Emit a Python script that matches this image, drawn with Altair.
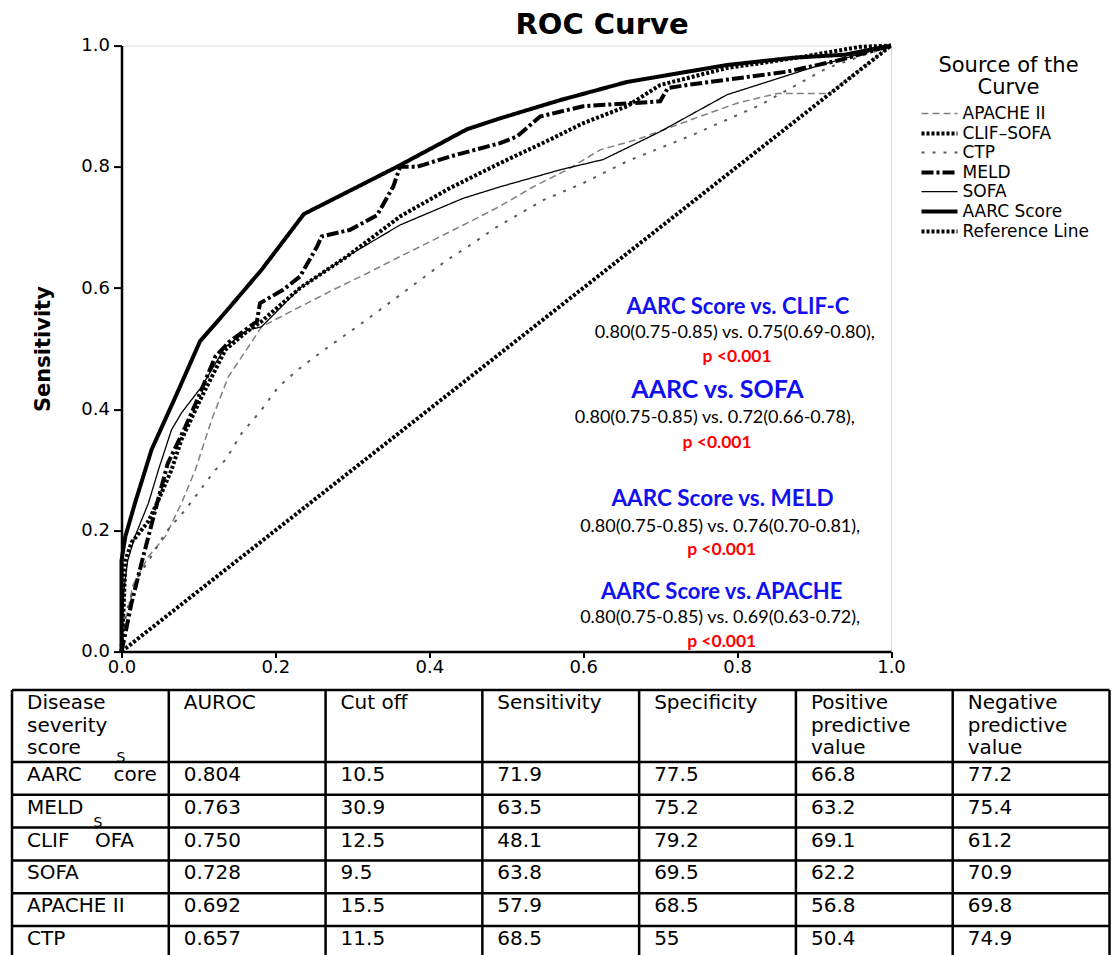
import altair as alt
import pandas as pd

# ---------------- ROC curve values ----------------
SERIES = ["APACHE II", "CLIF–SOFA", "CTP", "MELD", "SOFA", "AARC Score", "Reference Line"]

apache_fpr = [0.0, 0.005, 0.015, 0.035, 0.057, 0.078, 0.096, 0.117, 0.139, 0.165, 0.182, 0.232, 0.275, 0.319, 0.362, 0.405, 0.449, 0.492, 0.535, 0.579, 0.622, 0.67, 0.756, 0.80, 0.852, 0.92, 1.0]
apache_tpr = [0.0, 0.05, 0.11, 0.157, 0.19, 0.245, 0.30, 0.382, 0.454, 0.503, 0.536, 0.569, 0.597, 0.624, 0.652, 0.679, 0.707, 0.735, 0.767, 0.795, 0.828, 0.845, 0.885, 0.905, 0.921, 0.921, 1.0]

clif_fpr = [0.0, 0.003, 0.005, 0.013, 0.035, 0.048, 0.065, 0.078, 0.091, 0.104, 0.122, 0.135, 0.16, 0.182, 0.232, 0.293, 0.362, 0.427, 0.492, 0.557, 0.60, 0.657, 0.70, 0.787, 0.873, 0.96, 1.0]
clif_tpr = [0.0, 0.08, 0.15, 0.18, 0.215, 0.25, 0.30, 0.35, 0.385, 0.42, 0.465, 0.498, 0.525, 0.545, 0.60, 0.652, 0.718, 0.765, 0.806, 0.845, 0.872, 0.90, 0.935, 0.963, 0.979, 0.998, 1.0]

ctp_fpr = [0.0, 0.005, 0.02, 0.04, 0.057, 0.083, 0.096, 0.109, 0.122, 0.135, 0.156, 0.182, 0.204, 0.234, 0.269, 0.306, 0.353, 0.388, 0.423, 0.457, 0.488, 0.548, 0.60, 0.657, 0.743, 0.83, 0.917, 1.0]
ctp_tpr = [0.0, 0.06, 0.12, 0.16, 0.196, 0.234, 0.256, 0.278, 0.30, 0.316, 0.36, 0.399, 0.437, 0.47, 0.503, 0.536, 0.58, 0.613, 0.646, 0.674, 0.701, 0.745, 0.773, 0.809, 0.853, 0.902, 0.963, 1.0]

meld_fpr = [0.0, 0.005, 0.013, 0.026, 0.044, 0.06, 0.083, 0.10, 0.122, 0.139, 0.176, 0.18, 0.21, 0.232, 0.254, 0.26, 0.297, 0.332, 0.353, 0.362, 0.384, 0.427, 0.492, 0.514, 0.544, 0.60, 0.70, 0.71, 0.735, 0.865, 0.93, 1.0]
meld_tpr = [0.0, 0.03, 0.08, 0.146, 0.234, 0.31, 0.371, 0.42, 0.487, 0.51, 0.545, 0.575, 0.597, 0.619, 0.668, 0.685, 0.696, 0.72, 0.767, 0.80, 0.80, 0.817, 0.839, 0.85, 0.883, 0.90, 0.908, 0.93, 0.935, 0.957, 0.975, 1.0]

sofa_fpr = [0.0, 0.003, 0.008, 0.0175, 0.035, 0.048, 0.065, 0.078, 0.104, 0.135, 0.165, 0.182, 0.232, 0.293, 0.362, 0.444, 0.492, 0.57, 0.626, 0.70, 0.787, 0.908, 1.0]
sofa_tpr = [0.0, 0.10, 0.15, 0.19, 0.245, 0.30, 0.366, 0.394, 0.437, 0.503, 0.531, 0.536, 0.60, 0.652, 0.704, 0.748, 0.767, 0.795, 0.812, 0.858, 0.919, 0.968, 1.0]

aarc_fpr = [0.0, 0.0, 0.005, 0.0175, 0.039, 0.07, 0.102, 0.135, 0.182, 0.237, 0.358, 0.449, 0.492, 0.57, 0.657, 0.787, 0.873, 0.94, 1.0]
aarc_tpr = [0.0, 0.15, 0.19, 0.245, 0.333, 0.42, 0.512, 0.56, 0.63, 0.722, 0.80, 0.862, 0.88, 0.91, 0.94, 0.968, 0.98, 0.985, 1.0]

ref_fpr = [0.0, 1.0]
ref_tpr = [0.0, 1.0]

# ---------------- annotation texts ----------------
cmp_titles = ["AARC Score vs. CLIF-C", "AARC vs. SOFA", "AARC Score vs. MELD", "AARC Score vs. APACHE"]
cmp_values = ["0.80(0.75-0.85) vs. 0.75(0.69-0.80),", "0.80(0.75-0.85) vs. 0.72(0.66-0.78),",
              "0.80(0.75-0.85) vs. 0.76(0.70-0.81),", "0.80(0.75-0.85) vs. 0.69(0.63-0.72),"]
cmp_pvals = ["p <0.001", "p <0.001", "p <0.001", "p <0.001"]
# anchor points (data units of the ROC axes)
cmp_title_x = [0.801, 0.7745, 0.781, 0.780]
cmp_title_y = [0.569, 0.432, 0.251, 0.099]
cmp_value_x = [0.797, 0.771, 0.778, 0.778]
cmp_value_y = [0.526, 0.386, 0.206, 0.056]
cmp_p_x = [0.800, 0.774, 0.780, 0.780]
cmp_p_y = [0.486, 0.344, 0.168, 0.0165]
cmp_title_size = [22, 25, 22.5, 22]

# ---------------- table values ----------------
NB = "\u00a0"
tbl_header = ["Disease\nseverity\nscore", "AUROC", "Cut off", "Sensitivity", "Specificity",
              "Positive\npredictive\nvalue", "Negative\npredictive\nvalue"]
tbl_score = ["AARC" + NB * 5 + "core", "MELD", "CLIF" + NB * 4 + "OFA", "SOFA", "APACHE II", "CTP"]
tbl_auroc = ["0.804", "0.763", "0.750", "0.728", "0.692", "0.657"]
tbl_cutoff = ["10.5", "30.9", "12.5", "9.5", "15.5", "11.5"]
tbl_sens = ["71.9", "63.5", "48.1", "63.8", "57.9", "68.5"]
tbl_spec = ["77.5", "75.2", "79.2", "69.5", "68.5", "55"]
tbl_ppv = ["66.8", "63.2", "69.1", "62.2", "56.8", "50.4"]
tbl_npv = ["77.2", "75.4", "61.2", "70.9", "69.8", "74.9"]

# ---------------- layout (page pixels) ----------------
PLOT_LEFT, PLOT_TOP, PLOT_W, PLOT_H = 121.5, 45.6, 769.5, 606.0
PAGE_W, PAGE_H = 1120, 955
SVG_RIGHT = 1111          # last page pixel the chart may use (8px page margin)
TBL_X0, TBL_X1 = 12.0, 1109.5
TBL_Y0, HEAD_H, ROW_H = 690.0, 72.0, 32.8
NCOL = 7
COL_W = (TBL_X1 - TBL_X0) / NCOL
row_edges = [TBL_Y0, TBL_Y0 + HEAD_H] + [TBL_Y0 + HEAD_H + ROW_H * (i + 1) for i in range(6)]
col_edges = [TBL_X0 + COL_W * i for i in range(NCOL + 1)]

# ---------------- styles ----------------
colors = ["#808080", "black", "#5a5a5a", "black", "black", "black", "black"]
dashes = [[7, 4], [3, 2], [3, 8], [12, 3, 3, 3], [1, 0], [1, 0], [3, 2]]
widths = [1.5, 4, 2, 4, 1.3, 4, 4]

# ---------------- build tables ----------------
curves = {
    "APACHE II": (apache_fpr, apache_tpr),
    "CLIF–SOFA": (clif_fpr, clif_tpr),
    "CTP": (ctp_fpr, ctp_tpr),
    "MELD": (meld_fpr, meld_tpr),
    "SOFA": (sofa_fpr, sofa_tpr),
    "AARC Score": (aarc_fpr, aarc_tpr),
    "Reference Line": (ref_fpr, ref_tpr),
}
rows = []
for name, (fx, ty) in curves.items():
    for i, (f, t) in enumerate(zip(fx, ty, strict=True)):
        rows.append({"series": name, "fpr": f, "tpr": t, "ord": i})
roc_df = pd.DataFrame(rows)

title_df = pd.DataFrame({"t": cmp_titles, "x": cmp_title_x, "y": cmp_title_y, "s": cmp_title_size})
value_df = pd.DataFrame({"t": cmp_values, "x": cmp_value_x, "y": cmp_value_y})
p_df = pd.DataFrame({"t": cmp_pvals, "x": cmp_p_x, "y": cmp_p_y})

FONT = "DejaVu Sans"
ANN_FONT = "Lato"

legend = alt.Legend(
    title=["Source of the", "Curve"],
    orient="none", legendX=806, legendY=9,
    symbolType="M-1.8,0H1.8", symbolSize=400,
    labelFont=FONT, labelFontSize=17, labelColor="black", labelOffset=11,
    titleFont=FONT, titleFontSize=21, titleFontWeight="normal", titleColor="black",
    titleAnchor="middle", titleAlign="center", titleLineHeight=22, titlePadding=5,
    rowPadding=0,
)

xscale = alt.Scale(domain=[0, 1], nice=False, zero=False)
yscale = alt.Scale(domain=[0, 1], nice=False, zero=False)
ticks = [0, 0.2, 0.4, 0.6, 0.8, 1.0]

lines = alt.Chart(roc_df).mark_line(strokeCap="butt").encode(
    x=alt.X("fpr:Q", scale=xscale,
            axis=alt.Axis(values=ticks, format=".1f", title=None, grid=False,
                          domainColor="black", domainWidth=2.5, tickColor="black", tickWidth=2,
                          tickSize=6, labelFont=FONT, labelFontSize=18, labelColor="black",
                          labelPadding=1, labelFlush=False)),
    y=alt.Y("tpr:Q", scale=yscale,
            axis=alt.Axis(values=ticks, format=".1f", title="Sensitivity", grid=False,
                          domainColor="black", domainWidth=2.5, tickColor="black", tickWidth=2,
                          tickSize=8, labelFont=FONT, labelFontSize=18, labelColor="black",
                          labelPadding=4, titleFont=FONT, titleFontSize=21, titleFontWeight="bold",
                          titleColor="black", titlePadding=27)),
    color=alt.Color("series:N", scale=alt.Scale(domain=SERIES, range=colors), legend=legend),
    strokeDash=alt.StrokeDash("series:N", scale=alt.Scale(domain=SERIES, range=dashes), legend=legend),
    strokeWidth=alt.StrokeWidth("series:N", scale=alt.Scale(type="ordinal", domain=SERIES, range=widths), legend=legend),
    order=alt.Order("ord:Q"),
)

ann_titles = alt.Chart(title_df).mark_text(font=ANN_FONT, fontWeight="bold", color="#1010f0",
                                           align="center", baseline="middle").encode(
    x="x:Q", y="y:Q", text="t:N", size=alt.Size("s:Q", scale=None, legend=None))
ann_values = alt.Chart(value_df).mark_text(font=ANN_FONT, fontSize=18, color="black",
                                           align="center", baseline="middle").encode(
    x="x:Q", y="y:Q", text="t:N")
ann_p = alt.Chart(p_df).mark_text(font=ANN_FONT, fontSize=17.5, fontWeight="bold", color="#ff0000",
                                  align="center", baseline="middle").encode(
    x="x:Q", y="y:Q", text="t:N")

roc = alt.layer(lines, ann_titles, ann_values, ann_p)

# ---------------- page-coordinate layer: title + table ----------------
px = alt.Scale(domain=[0, PAGE_W], range=[-PLOT_LEFT, PAGE_W - PLOT_LEFT], nice=False, zero=False)
py = alt.Scale(domain=[0, PAGE_H], range=[-PLOT_TOP, PAGE_H - PLOT_TOP], nice=False, zero=False)

hl = pd.DataFrame({"y": row_edges, "x": [TBL_X0] * len(row_edges), "x2": [TBL_X1] * len(row_edges)})
vl = pd.DataFrame({"x": col_edges, "y": [TBL_Y0] * len(col_edges), "y2": [row_edges[-1]] * len(col_edges)})

hrules = alt.Chart(hl).mark_rule(color="black", strokeWidth=2.5).encode(
    x=alt.X("x:Q", scale=px, axis=None), x2="x2:Q", y=alt.Y("y:Q", scale=py, axis=None))
vrules = alt.Chart(vl).mark_rule(color="black", strokeWidth=2.5).encode(
    x=alt.X("x:Q", scale=px, axis=None), y=alt.Y("y:Q", scale=py, axis=None), y2="y2:Q")

cells = []
for c, h in enumerate(tbl_header):
    cells.append({"t": h, "x": col_edges[c] + 15, "y": TBL_Y0 + 3})
columns = [tbl_score, tbl_auroc, tbl_cutoff, tbl_sens, tbl_spec, tbl_ppv, tbl_npv]
for c, col in enumerate(columns):
    for r, v in enumerate(col):
        cells.append({"t": v, "x": col_edges[c] + 15, "y": row_edges[r + 1] + 3})
cell_df = pd.DataFrame(cells)

cell_text = alt.Chart(cell_df).mark_text(font=FONT, fontSize=20, color="black", align="left",
                                         baseline="top", lineBreak="\n", lineHeight=22.5).encode(
    x=alt.X("x:Q", scale=px, axis=None), y=alt.Y("y:Q", scale=py, axis=None), text="t:N")

# stray raised "S" glyphs of the original table
stray_df = pd.DataFrame({"t": ["S", "S"], "x": [121, 98], "y": [758, 823]})
stray = alt.Chart(stray_df).mark_text(font=FONT, fontSize=14, color="black", align="center",
                                      baseline="middle").encode(
    x=alt.X("x:Q", scale=px, axis=None), y=alt.Y("y:Q", scale=py, axis=None), text="t:N")

main_title = alt.Chart(pd.DataFrame({"t": ["ROC Curve"], "x": [602], "y": [25]})).mark_text(
    font=FONT, fontSize=29, fontWeight="bold", color="black", align="center", baseline="middle").encode(
    x=alt.X("x:Q", scale=px, axis=None), y=alt.Y("y:Q", scale=py, axis=None), text="t:N")

page = alt.layer(hrules, vrules, cell_text, stray, main_title)

chart = alt.layer(roc, page).resolve_scale(x="independent", y="independent").properties(
    width=PLOT_W, height=PLOT_H,
    autosize=alt.AutoSizeParams(type="none"),
    padding={"left": PLOT_LEFT - 8, "top": PLOT_TOP - 8, "right": SVG_RIGHT - PLOT_LEFT - PLOT_W,
             "bottom": PAGE_H - PLOT_TOP - PLOT_H},
).configure_view(stroke="#7a7a7a", strokeWidth=2).configure(background="white")

chart.save("out.html", embed_options={"renderer": "svg", "actions": False})
